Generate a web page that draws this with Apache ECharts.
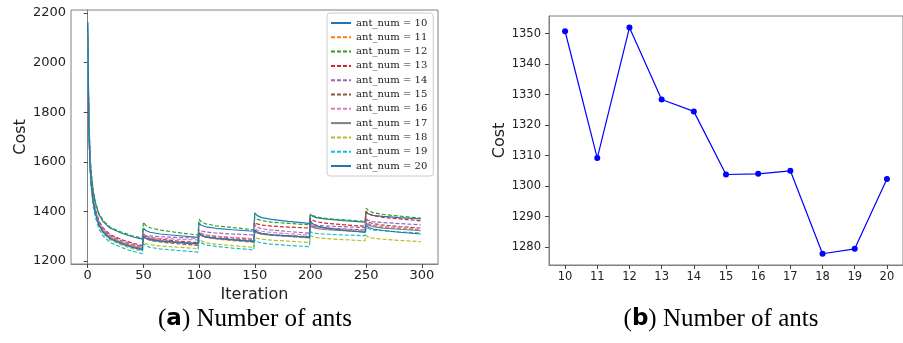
<!DOCTYPE html>
<html>
<head>
<meta charset="utf-8">
<script src="https://cdn.jsdelivr.net/npm/echarts@6/dist/echarts.min.js"></script>
<style>
  html, body { margin: 0; padding: 0; background: #fff; }
  #chart { width: 903px; height: 343px; }
</style>
</head>
<body>
<div id="chart"></div>
<script>
// left panel: cost per iteration, sampled at these iterations
const iterations = [0, 1, 2, 3, 5, 7, 10, 14, 20, 30, 40, 49,
  50, 52, 56, 65, 80, 99,
  100, 102, 106, 115, 130, 149,
  150, 152, 156, 165, 180, 199,
  200, 202, 206, 215, 230, 249,
  250, 252, 256, 265, 280, 299]

const cost10 = [2165, 1788, 1638, 1558, 1478, 1433, 1388, 1358, 1333, 1313, 1298, 1288,
  1333, 1323, 1316, 1309, 1303, 1295,
  1352, 1344, 1338, 1332, 1326, 1320,
  1394, 1384, 1375, 1368, 1360, 1352,
  1388, 1380, 1374, 1369, 1363, 1357,
  1396, 1390, 1384, 1380, 1375, 1370]
const cost11 = [2130, 1754, 1604, 1524, 1444, 1399, 1354, 1324, 1299, 1279, 1264, 1254,
  1306, 1297, 1290, 1284, 1277, 1270,
  1312, 1303, 1295, 1289, 1282, 1275,
  1322, 1315, 1309, 1304, 1299, 1293,
  1345, 1338, 1333, 1328, 1323, 1318,
  1355, 1348, 1342, 1336, 1331, 1325]
const cost12 = [2100, 1792, 1642, 1562, 1482, 1437, 1392, 1362, 1337, 1317, 1302, 1292,
  1357, 1344, 1334, 1325, 1315, 1305,
  1369, 1358, 1350, 1342, 1335, 1326,
  1376, 1369, 1363, 1357, 1352, 1346,
  1390, 1383, 1377, 1371, 1366, 1360,
  1413, 1403, 1395, 1388, 1381, 1373]
const cost13 = [2080, 1762, 1612, 1532, 1452, 1407, 1362, 1332, 1307, 1287, 1272, 1262,
  1310, 1301, 1294, 1288, 1281, 1274,
  1318, 1311, 1305, 1299, 1294, 1288,
  1355, 1350, 1345, 1341, 1337, 1333,
  1372, 1364, 1358, 1352, 1346, 1340,
  1400, 1391, 1383, 1376, 1370, 1362]
const cost14 = [2110, 1758, 1608, 1528, 1448, 1403, 1358, 1328, 1303, 1283, 1268, 1258,
  1308, 1304, 1301, 1298, 1295, 1292,
  1326, 1321, 1317, 1313, 1309, 1305,
  1345, 1337, 1330, 1325, 1319, 1312,
  1352, 1348, 1344, 1341, 1338, 1335,
  1370, 1364, 1359, 1355, 1351, 1346]
const cost15 = [2060, 1750, 1600, 1520, 1440, 1395, 1350, 1320, 1295, 1275, 1260, 1250,
  1300, 1291, 1283, 1277, 1270, 1263,
  1310, 1303, 1297, 1293, 1288, 1282,
  1320, 1315, 1310, 1306, 1302, 1298,
  1345, 1340, 1336, 1333, 1329, 1325,
  1365, 1357, 1351, 1345, 1339, 1333]
const cost16 = [2090, 1752, 1602, 1522, 1442, 1397, 1352, 1322, 1297, 1277, 1262, 1252,
  1302, 1298, 1294, 1291, 1288, 1285,
  1315, 1309, 1304, 1300, 1295, 1290,
  1332, 1325, 1320, 1315, 1310, 1305,
  1350, 1343, 1337, 1333, 1328, 1322,
  1358, 1351, 1345, 1339, 1334, 1328]
const cost17 = [2070, 1748, 1598, 1518, 1438, 1393, 1348, 1318, 1293, 1273, 1258, 1248,
  1298, 1291, 1285, 1279, 1274, 1268,
  1310, 1303, 1297, 1291, 1286, 1280,
  1318, 1313, 1308, 1304, 1300, 1296,
  1340, 1335, 1330, 1326, 1322, 1318,
  1352, 1345, 1339, 1333, 1328, 1322]
const cost18 = [2120, 1740, 1590, 1510, 1430, 1385, 1340, 1310, 1285, 1265, 1250, 1240,
  1278, 1271, 1265, 1261, 1256, 1250,
  1290, 1281, 1274, 1268, 1262, 1255,
  1298, 1292, 1288, 1284, 1280, 1275,
  1303, 1298, 1294, 1290, 1286, 1282,
  1303, 1297, 1292, 1288, 1283, 1278]
const cost19 = [2050, 1730, 1580, 1500, 1420, 1375, 1330, 1300, 1275, 1255, 1240, 1230,
  1270, 1262, 1255, 1249, 1243, 1236,
  1282, 1273, 1265, 1259, 1252, 1245,
  1285, 1278, 1273, 1268, 1263, 1258,
  1318, 1314, 1311, 1308, 1305, 1302,
  1335, 1330, 1325, 1322, 1317, 1313]
const cost20 = [2160, 1745, 1595, 1515, 1435, 1390, 1345, 1315, 1290, 1270, 1255, 1245,
  1300, 1293, 1287, 1281, 1276, 1270,
  1312, 1304, 1297, 1291, 1285, 1278,
  1325, 1318, 1312, 1306, 1301, 1295,
  1362, 1350, 1341, 1333, 1324, 1315,
  1345, 1336, 1329, 1323, 1316, 1309]

const antNums = [10, 11, 12, 13, 14, 15, 16, 17, 18, 19, 20]
const costRuns = [cost10, cost11, cost12, cost13, cost14, cost15, cost16, cost17, cost18, cost19, cost20]
const runColors = ['#1f77b4', '#ff7f0e', '#2ca02c', '#d62728', '#9467bd', '#8c564b',
  '#e377c2', '#7f7f7f', '#bcbd22', '#17becf', '#1f77b4']
const runDashed = [false, true, true, true, true, true, true, false, true, true, false]

const iterTicks = [0, 50, 100, 150, 200, 250, 300]
const costTicksA = [1200, 1400, 1600, 1800, 2000, 2200]

// right panel: cost per number of ants
const antCategories = [10, 11, 12, 13, 14, 15, 16, 17, 18, 19, 20]
const antCost = [1350.8, 1309.2, 1352.0, 1328.4, 1324.5, 1303.8, 1304.0, 1305.0, 1277.8, 1279.4, 1302.3]
const costTicksB = [1280, 1290, 1300, 1310, 1320, 1330, 1340, 1350]

const spine = '#808080'
const tickText = { color: '#222', fontFamily: 'DejaVu Sans', formatter: (v) => String(v) }
const nameText = { fontSize: 16, color: '#222', fontFamily: 'DejaVu Sans' }

const chart = echarts.init(document.getElementById('chart'))

const leftSeries = costRuns.map((run, i) => ({
  name: 'ant_num = ' + antNums[i],
  type: 'line',
  xAxisIndex: 0,
  yAxisIndex: 0,
  symbol: 'none',
  data: run.map((v, k) => [iterations[k], v]),
  lineStyle: {
    color: runColors[i],
    width: 1.2,
    type: runDashed[i] ? [4, 2] : 'solid',
  },
  itemStyle: { color: runColors[i] },
}))

const caption = (letter) => ({
  text: '{p|(}{l|' + letter + '}{p|)} Number of ants',
  align: 'center',
  verticalAlign: 'middle',
  font: '25px "Liberation Serif"',
  fill: '#000',
  rich: {
    p: { font: '25px "Liberation Serif"' },
    l: { font: 'bold 23px "DejaVu Sans"' },
  },
})

chart.setOption({
  animation: false,
  grid: [
    { left: 71, right: 465, top: 10, bottom: 79, show: true, borderColor: spine, borderWidth: 1 },
    { left: 549, right: -4, top: 16, bottom: 78, show: true, borderColor: spine, borderWidth: 1 },
  ],
  xAxis: [
    {
      gridIndex: 0,
      type: 'value',
      min: -15,
      max: 314.5,
      name: 'Iteration',
      nameLocation: 'middle',
      nameGap: 20,
      nameTextStyle: nameText,
      axisLine: { show: true, lineStyle: { color: spine } },
      axisTick: { show: true, length: 4, customValues: iterTicks, lineStyle: { color: '#444' } },
      axisLabel: { customValues: iterTicks, fontSize: 13, margin: 5, ...tickText },
      splitLine: { show: false },
    },
    {
      gridIndex: 1,
      type: 'value',
      min: 9.5,
      max: 20.5,
      axisLine: { show: true, lineStyle: { color: spine } },
      axisTick: { show: true, length: 4, customValues: antCategories, lineStyle: { color: '#444' } },
      axisLabel: { customValues: antCategories, fontSize: 11.5, margin: 6, ...tickText },
      splitLine: { show: false },
    },
  ],
  yAxis: [
    {
      gridIndex: 0,
      type: 'value',
      min: 1188,
      max: 2212,
      name: 'Cost',
      nameLocation: 'middle',
      nameGap: 36,
      nameTextStyle: nameText,
      axisLine: { show: true, lineStyle: { color: spine } },
      axisTick: { show: true, length: 4, customValues: costTicksA, lineStyle: { color: '#444' } },
      axisLabel: { customValues: costTicksA, fontSize: 13, margin: 5, ...tickText },
      splitLine: { show: false },
    },
    {
      gridIndex: 1,
      type: 'value',
      min: 1274.1,
      max: 1355.8,
      name: 'Cost',
      nameLocation: 'middle',
      nameGap: 36,
      nameTextStyle: nameText,
      axisLine: { show: true, lineStyle: { color: spine } },
      axisTick: { show: true, length: 4, customValues: costTicksB, lineStyle: { color: '#444' } },
      axisLabel: { customValues: costTicksB, fontSize: 11.5, margin: 8, ...tickText },
      splitLine: { show: false },
    },
  ],
  legend: {
    orient: 'vertical',
    left: 327,
    top: 13,
    padding: [5, 6, 5, 3],
    itemWidth: 20,
    itemHeight: 10,
    itemGap: 4.3,
    backgroundColor: '#fff',
    borderColor: '#ccc',
    borderWidth: 1,
    borderRadius: 3,
    itemStyle: { opacity: 0 },
    textStyle: { fontFamily: 'DejaVu Serif', fontSize: 10, color: '#222' },
    data: antNums.map((n) => 'ant_num = ' + n),
  },
  graphic: [
    { type: 'text', x: 255, y: 319, style: caption('a') },
    { type: 'text', x: 721, y: 319, style: caption('b') },
  ],
  series: [
    ...leftSeries,
    {
      name: 'cost',
      type: 'line',
      xAxisIndex: 1,
      yAxisIndex: 1,
      data: antCategories.map((n, i) => [n, antCost[i]]),
      symbol: 'circle',
      symbolSize: 6,
      lineStyle: { color: '#0000ff', width: 1.2 },
      itemStyle: { color: '#0000ff' },
    },
  ],
})
</script>
</body>
</html>
